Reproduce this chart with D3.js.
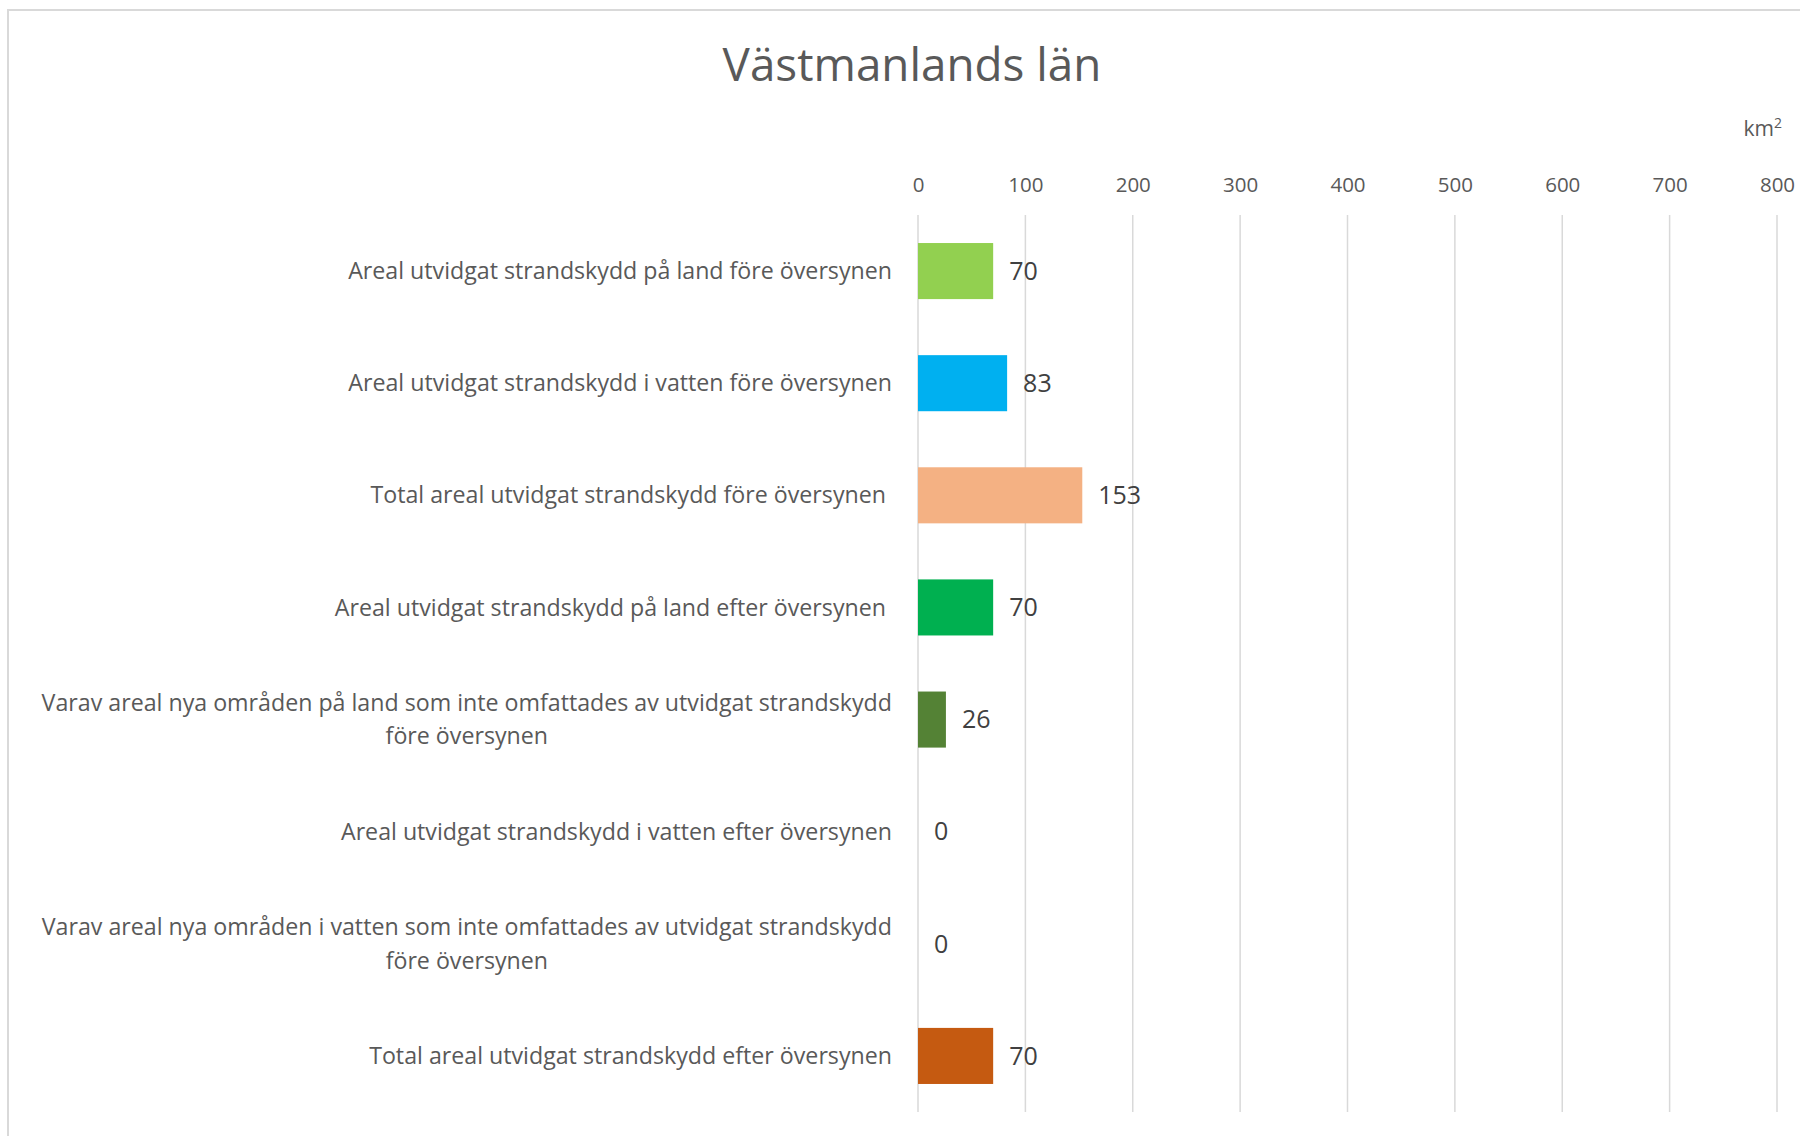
<!DOCTYPE html>
<html>
<head>
<meta charset="utf-8">
<script src="https://cdn.jsdelivr.net/npm/d3@7"></script>
<style>
  body { margin: 0; background: #fff; }
  text { font-family: "Open Sans", "Noto Sans", sans-serif; }
</style>
</head>
<body>
<div id="vis-holder"></div>
<script>
// Data
const title = "Västmanlands län";
const unitLabel = "km";
const categories = [
  "Areal utvidgat strandskydd på land före översynen",
  "Areal utvidgat strandskydd i vatten före översynen",
  "Total areal utvidgat strandskydd före översynen ",
  "Areal utvidgat strandskydd på land efter översynen ",
  "Varav areal nya områden på land som inte omfattades av utvidgat strandskydd\nföre översynen",
  "Areal utvidgat strandskydd i vatten efter översynen",
  "Varav areal nya områden i vatten som inte omfattades av utvidgat strandskydd\nföre översynen",
  "Total areal utvidgat strandskydd efter översynen"
];
const values = [70, 83, 153, 70, 26, 0, 0, 70];
const barColors = ["#92D050", "#00B0F0", "#F4B183", "#00B050", "#548235", "#00B0F0", "#70AD47", "#C55A11"];
const xTicks = [0, 100, 200, 300, 400, 500, 600, 700, 800];

// Set dimensions
const width = 1800;
const height = 1136;
const margin = { top: 215, right: 23, bottom: 24, left: 918 };

const svg = d3.select("#vis-holder")
  .append("svg")
  .attr("width", width)
  .attr("height", height);

// chart area border (right/bottom edges fall off the picture)
svg.append("rect")
  .attr("x", 8)
  .attr("y", 10)
  .attr("width", width + 40)
  .attr("height", height + 40)
  .attr("fill", "none")
  .attr("stroke", "#D9D9D9")
  .attr("stroke-width", 2);

// Title
svg.append("text")
  .attr("x", 912)
  .attr("y", 81)
  .attr("text-anchor", "middle")
  .attr("font-size", "45.8px")
  .attr("fill", "#595959")
  .text(title);

// Scales
const x = d3.scaleLinear()
  .domain([0, 800])
  .range([margin.left, width - margin.right]);

const y = d3.scaleBand()
  .domain(d3.range(categories.length))
  .range([margin.top, height - margin.bottom])
  .paddingInner(0.5)
  .paddingOuter(0.25);

// Gridlines
svg.append("g")
  .selectAll("line")
  .data(xTicks)
  .enter()
  .append("line")
  .attr("x1", (d) => x(d))
  .attr("x2", (d) => x(d))
  .attr("y1", margin.top)
  .attr("y2", height - margin.bottom)
  .attr("stroke", "#D9D9D9")
  .attr("stroke-width", 1.5);

// Top axis (labels only)
svg.append("g")
  .attr("transform", `translate(0,${margin.top})`)
  .call(d3.axisTop(x).tickValues(xTicks).tickSize(0).tickPadding(23))
  .call((g) => g.select(".domain").remove())
  .call((g) => g.selectAll("text")
    .attr("font-family", null)
    .attr("font-size", "20.5px")
    .attr("fill", "#595959"));

// Unit label
const unit = svg.append("text")
  .attr("x", 1782)
  .attr("y", 136)
  .attr("text-anchor", "end")
  .attr("font-size", "21px")
  .attr("fill", "#595959");
unit.append("tspan").text(unitLabel);
unit.append("tspan")
  .attr("font-size", "14px")
  .attr("dy", "-8")
  .text("2");

// Bars
svg.selectAll(".bar")
  .data(values)
  .enter()
  .append("rect")
  .attr("class", "bar")
  .attr("x", x(0))
  .attr("y", (d, i) => y(i))
  .attr("width", (d) => x(d) - x(0))
  .attr("height", y.bandwidth())
  .attr("fill", (d, i) => barColors[i]);

// Value labels
svg.selectAll(".value")
  .data(values)
  .enter()
  .append("text")
  .attr("class", "value")
  .attr("x", (d) => x(d) + 16)
  .attr("y", (d, i) => y(i) + y.bandwidth() / 2)
  .attr("dy", "0.35em")
  .attr("font-size", "25px")
  .attr("fill", "#404040")
  .text((d) => d);

// Category labels, right aligned; wrapped lines centred on the longest line
const labelRight = 892;
const lineHeight = 33.5;
const labelSize = "23.2px";
const labels = svg.append("g");
categories.forEach((cat, i) => {
  const lines = cat.split("\n");
  const cy = y(i) + y.bandwidth() / 2;
  const t = labels.append("text")
    .attr("font-size", labelSize)
    .attr("fill", "#595959")
    .style("white-space", "pre");
  if (lines.length === 1) {
    t.attr("x", labelRight)
      .attr("y", cy)
      .attr("dy", "0.35em")
      .attr("text-anchor", "end")
      .text(cat);
  } else {
    // measure longest line to find the centre
    const probe = labels.append("text").attr("font-size", labelSize).text(lines[0]);
    const w = probe.node().getComputedTextLength();
    probe.remove();
    const cx = labelRight - w / 2;
    t.attr("text-anchor", "middle");
    lines.forEach((ln, k) => {
      t.append("tspan")
        .attr("x", cx)
        .attr("y", cy + (k - (lines.length - 1) / 2) * lineHeight)
        .attr("dy", "0.35em")
        .text(ln);
    });
  }
});
</script>
</body>
</html>
